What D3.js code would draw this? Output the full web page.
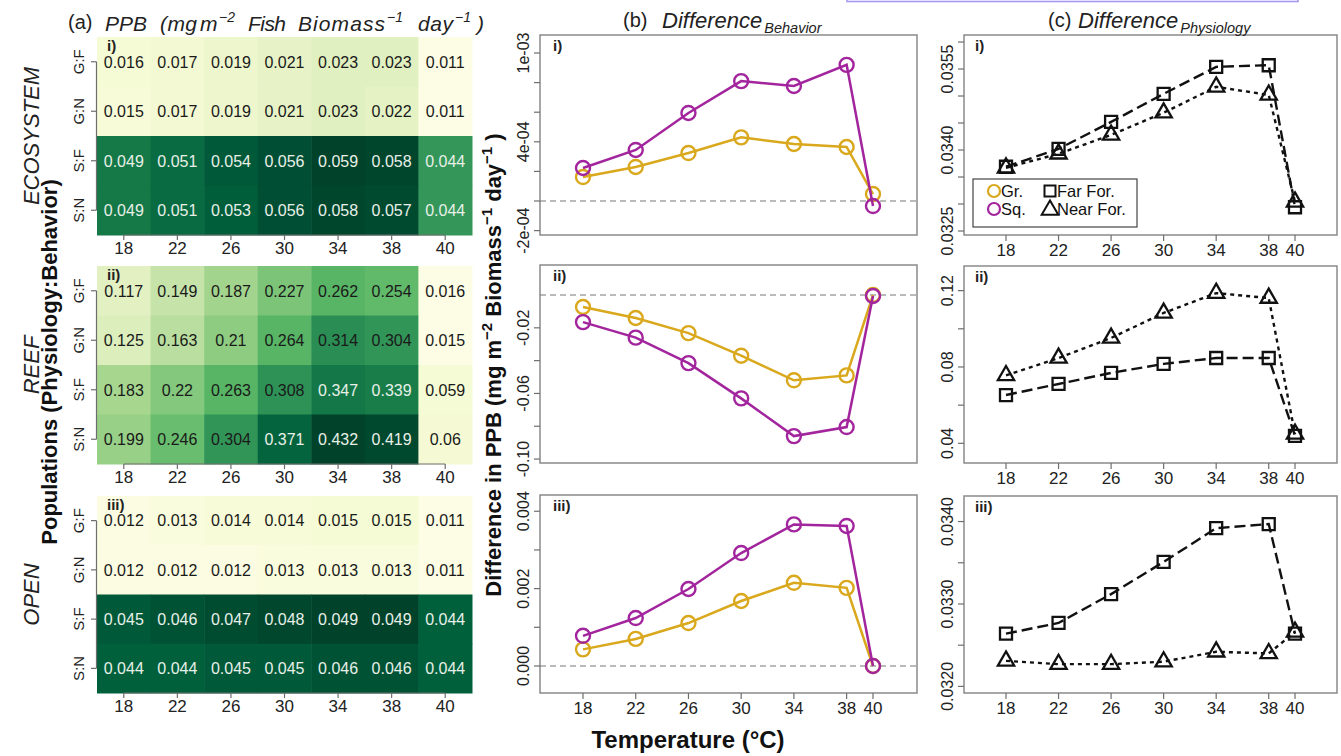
<!DOCTYPE html>
<html><head><meta charset="utf-8">
<script src="https://cdn.jsdelivr.net/npm/d3@7"></script>
<style>
body{margin:0;background:#fff}
svg{display:block}
text{font-family:"Liberation Sans",Arial,Helvetica,sans-serif}
</style>
</head><body>
<svg id="c" width="1341" height="756"></svg>
<script>
// ---------------- DATA ----------------
const temps = [18, 22, 26, 30, 34, 38, 40];
const popRows = ["G:F", "G:N", "S:F", "S:N"];

// (a) PPB heatmaps
const ecoGF = [0.016, 0.017, 0.019, 0.021, 0.023, 0.023, 0.011];
const ecoGN = [0.015, 0.017, 0.019, 0.021, 0.023, 0.022, 0.011];
const ecoSF = [0.049, 0.051, 0.054, 0.056, 0.059, 0.058, 0.044];
const ecoSN = [0.049, 0.051, 0.053, 0.056, 0.058, 0.057, 0.044];
const reefGF = [0.117, 0.149, 0.187, 0.227, 0.262, 0.254, 0.016];
const reefGN = [0.125, 0.163, 0.21, 0.264, 0.314, 0.304, 0.015];
const reefSF = [0.183, 0.22, 0.263, 0.308, 0.347, 0.339, 0.059];
const reefSN = [0.199, 0.246, 0.304, 0.371, 0.432, 0.419, 0.06];
const openGF = [0.012, 0.013, 0.014, 0.014, 0.015, 0.015, 0.011];
const openGN = [0.012, 0.012, 0.012, 0.013, 0.013, 0.013, 0.011];
const openSF = [0.045, 0.046, 0.047, 0.048, 0.049, 0.049, 0.044];
const openSN = [0.044, 0.044, 0.045, 0.045, 0.046, 0.046, 0.044];

// (b) Difference Behavior
const behGr1 = [1.62e-4, 2.30e-4, 3.24e-4, 4.30e-4, 3.85e-4, 3.65e-4, 0.47e-4];
const behSq1 = [2.23e-4, 3.45e-4, 5.95e-4, 8.10e-4, 7.77e-4, 9.20e-4, -0.34e-4];
const behGr2 = [-0.0073, -0.014, -0.0232, -0.037, -0.052, -0.049, 0.0];
const behSq2 = [-0.0165, -0.026, -0.0415, -0.063, -0.086, -0.0805, -0.0006];
const behGr3 = [0.00043, 0.0007, 0.00111, 0.00168, 0.00215, 0.00202, 0.0];
const behSq3 = [0.00078, 0.00124, 0.00199, 0.00292, 0.00366, 0.00362, 0.0];

// (c) Difference Physiology
const phyFar1 = [0.03369, 0.03402, 0.03452, 0.03504, 0.03554, 0.03557, 0.03294];
const phyNear1 = [0.03367, 0.03393, 0.03428, 0.03469, 0.03517, 0.03502, 0.03304];
const phyFar2 = [0.0653, 0.0711, 0.0769, 0.0816, 0.0847, 0.0847, 0.0439];
const phyNear2 = [0.0756, 0.0847, 0.0952, 0.1083, 0.1187, 0.1161, 0.0449];
const phyFar3 = [0.03264, 0.03277, 0.03312, 0.03351, 0.03392, 0.03397, 0.03264];
const phyNear3 = [0.03231, 0.03227, 0.03227, 0.0323, 0.03242, 0.0324, 0.03266];

// tick values and labels
const behTicks1 = [-2e-4, 0, 2e-4, 4e-4, 6e-4, 8e-4, 1e-3];
const behLabels1 = ["-2e-04", "", "", "4e-04", "", "", "1e-03"];
const behTicks2 = [-0.10, -0.08, -0.06, -0.04, -0.02];
const behLabels2 = ["-0.10", "", "-0.06", "", "-0.02"];
const behTicks3 = [0, 0.001, 0.002, 0.003, 0.004];
const behLabels3 = ["0.000", "", "0.002", "", "0.004"];
const phyTicks1 = [0.0325, 0.033, 0.0335, 0.034, 0.0345, 0.035, 0.0355, 0.036];
const phyLabels1 = ["0.0325", "", "", "0.0340", "", "", "0.0355", ""];
const phyTicks2 = [0.04, 0.06, 0.08, 0.10, 0.12];
const phyLabels2 = ["0.04", "", "0.08", "", "0.12"];
const phyTicks3 = [0.032, 0.0325, 0.033, 0.0335, 0.034];
const phyLabels3 = ["0.0320", "", "0.0330", "", "0.0340"];

const legendItems = ["Gr.", "Sq.", "Far For.", "Near For."];

// ---------------- STYLE ----------------
const GOLD = "#d9a81c", PURPLE = "#a2259d", AX = "#6e6e6e";
const svg = d3.select("#c");

// purple selection edge at top
svg.append("rect").attr("x", 847).attr("y", -6).attr("width", 451).attr("height", 7.5)
  .attr("fill", "none").attr("stroke", "#a898f0").attr("stroke-width", 1.6);

function rich(sel, parts, supSize, shift) {
  parts.forEach(p => {
    if (p[1] === "sup") {
      sel.append("tspan").attr("font-size", supSize).attr("dy", -shift).text(p[0]);
    } else if (p[1] === "after") {
      sel.append("tspan").attr("dy", shift).text(p[0]);
    } else {
      sel.append("tspan").text(p[0]);
    }
  });
}

// ---------------- (a) HEATMAPS ----------------
const hx = d3.scaleBand().domain(temps).range([97, 472]);
const colorStops = [0, 0.1, 0.25, 0.4, 0.5, 0.6, 0.7, 0.8, 0.87, 0.95, 1];
const colorVals = ["#fdfde5", "#f6fbd5", "#e1f0c1", "#a8d690", "#80c77a", "#56b464",
                   "#2f9357", "#127646", "#005f3c", "#004b31", "#00432a"];
const tcol = d3.scaleLinear().domain(colorStops).range(colorVals).interpolate(d3.interpolateRgb);

const heatPanels = [
  {rows: [ecoGF, ecoGN, ecoSF, ecoSN], y0: 37, y1: 235, lab: "i)", name: "ECOSYSTEM", thr: 0.6},
  {rows: [reefGF, reefGN, reefSF, reefSN], y0: 266, y1: 464, lab: "ii)", name: "REEF", thr: 0.75},
  {rows: [openGF, openGN, openSF, openSN], y0: 496, y1: 693, lab: "iii)", name: "OPEN", thr: 0.6}
];

heatPanels.forEach(P => {
  const g = svg.append("g");
  const hy = d3.scaleBand().domain(popRows).range([P.y0, P.y1]);
  const all = P.rows.flat();
  const mn = d3.min(all), mx = d3.max(all);
  const cells = [];
  P.rows.forEach((r, i) => r.forEach((v, j) => cells.push({row: popRows[i], t: temps[j], v, s: (v - mn) / (mx - mn)})));
  g.selectAll("rect.c").data(cells).join("rect")
    .attr("x", d => hx(d.t)).attr("y", d => hy(d.row))
    .attr("width", hx.bandwidth() + 0.5).attr("height", hy.bandwidth() + 0.5)
    .attr("fill", d => tcol(d.s));
  g.selectAll("text.v").data(cells).join("text")
    .attr("x", d => hx(d.t) + hx.bandwidth() / 2).attr("y", d => hy(d.row) + hy.bandwidth() / 2)
    .attr("dy", "0.36em").attr("text-anchor", "middle").attr("font-size", 16)
    .attr("fill", d => d.s > P.thr ? "#e8f0e8" : "#1a1a1a")
    .text(d => String(d.v));
  // y axis
  const yc0 = hy(popRows[0]) + hy.bandwidth() / 2, yc1 = hy(popRows[3]) + hy.bandwidth() / 2;
  g.append("line").attr("x1", 96.5).attr("x2", 96.5).attr("y1", yc0).attr("y2", yc1).attr("stroke", AX).attr("stroke-width", 1.2);
  popRows.forEach(r => {
    const y = hy(r) + hy.bandwidth() / 2;
    g.append("line").attr("x1", 91).attr("x2", 96.5).attr("y1", y).attr("y2", y).attr("stroke", AX).attr("stroke-width", 1.2);
    g.append("text").attr("transform", `translate(84,${y}) rotate(-90)`).attr("text-anchor", "middle")
      .attr("font-size", 15).attr("fill", "#222").text(r);
  });
  // x axis
  const xc0 = hx(temps[0]) + hx.bandwidth() / 2, xc1 = hx(temps[6]) + hx.bandwidth() / 2;
  g.append("line").attr("x1", xc0).attr("x2", xc1).attr("y1", P.y1).attr("y2", P.y1).attr("stroke", AX).attr("stroke-width", 1.2);
  temps.forEach(t => {
    const x = hx(t) + hx.bandwidth() / 2;
    g.append("line").attr("x1", x).attr("x2", x).attr("y1", P.y1).attr("y2", P.y1 + 5).attr("stroke", AX).attr("stroke-width", 1.2);
    g.append("text").attr("x", x).attr("y", P.y1 + 19).attr("text-anchor", "middle").attr("font-size", 17).attr("fill", "#222").text(t);
  });
  g.append("text").attr("x", 107).attr("y", P.y0 + 14).attr("font-size", 15).attr("font-weight", "bold").attr("fill", "#222").text(P.lab);
  g.append("text").attr("transform", `translate(39,${(P.y0 + P.y1) / 2}) rotate(-90)`).attr("text-anchor", "middle")
    .attr("font-size", 22).attr("font-style", "italic").attr("fill", "#222").text(P.name);
});

// left axis title
svg.append("text").attr("transform", "translate(57,362) rotate(-90)").attr("text-anchor", "middle")
  .attr("font-size", 22).attr("font-weight", "bold").attr("fill", "#111").text("Populations (Physiology:Behavior)");

// (a) title
{
  svg.append("text").attr("x", 68).attr("y", 29).attr("font-size", 20).attr("fill", "#222").text("(a)");
  // [word, x, width, superscript, supX]
  const words = [["PPB", 105, 42], ["(mg", 160, 37], ["m", 200, 18, "\u22122", 219], ["Fish", 248, 38],
                 ["Biomass", 298, 87, "\u22121", 387], ["day", 418, 35, "\u22121", 455], [")", 477, 6]];
  words.forEach(w => {
    svg.append("text").attr("x", w[1]).attr("y", 31).attr("font-size", 21).attr("font-style", "italic").attr("fill", "#222")
      .attr("textLength", w[2]).attr("lengthAdjust", "spacing").text(w[0]);
    if (w[3]) svg.append("text").attr("x", w[4]).attr("y", 22).attr("font-size", 14).attr("font-style", "italic").attr("fill", "#222").text(w[3]);
  });
}

// ---------------- LINE PANELS ----------------
function linePanel(o) {
  const g = svg.append("g");
  const x = d3.scaleLinear().domain([18, 40]).range(o.xr);
  const y = d3.scaleLinear().domain(o.yd).range([o.y1, o.y0]);
  g.append("rect").attr("x", o.bx0).attr("y", o.y0).attr("width", o.bx1 - o.bx0).attr("height", o.y1 - o.y0)
    .attr("fill", "none").attr("stroke", "#8a8a8a").attr("stroke-width", 1.5);
  o.ticks.forEach((v, i) => {
    g.append("line").attr("x1", o.bx0 - 6).attr("x2", o.bx0).attr("y1", y(v)).attr("y2", y(v)).attr("stroke", AX).attr("stroke-width", 1.2);
    if (o.labels[i]) g.append("text").attr("transform", `translate(${o.bx0 - 11},${y(v)}) rotate(-90)`).attr("text-anchor", "middle")
      .attr("font-size", 16).attr("fill", "#222").text(o.labels[i]);
  });
  if (o.showX) {
    temps.forEach(t => {
      g.append("line").attr("x1", x(t)).attr("x2", x(t)).attr("y1", o.y1).attr("y2", o.y1 + 6).attr("stroke", AX).attr("stroke-width", 1.2);
      g.append("text").attr("x", x(t)).attr("y", o.y1 + 21).attr("text-anchor", "middle").attr("font-size", 17).attr("fill", "#222").text(t);
    });
  }
  if (o.zero) {
    g.append("line").attr("x1", o.bx0).attr("x2", o.bx1).attr("y1", y(0)).attr("y2", y(0))
      .attr("stroke", "#777").attr("stroke-width", 1.2).attr("stroke-dasharray", "6,4");
  }
  g.append("text").attr("x", o.bx0 + o.labDx).attr("y", o.y0 + 16).attr("font-size", 15).attr("font-weight", "bold").attr("fill", "#222").text(o.lab);
  o.series.forEach(s => {
    const pts = s.vals.map((v, i) => [x(temps[i]), y(v)]);
    g.append("path").attr("d", d3.line()(pts)).attr("fill", "none").attr("stroke", s.color)
      .attr("stroke-width", s.lw).attr("stroke-dasharray", s.dash || null);
    pts.forEach(p => {
      if (s.shape === "circle") {
        g.append("circle").attr("cx", p[0]).attr("cy", p[1]).attr("r", 7).attr("fill", "none").attr("stroke", s.color).attr("stroke-width", 2.4);
      } else {
        const sym = s.shape === "square" ? d3.symbol().type(d3.symbolSquare).size(144) : d3.symbol().type(d3.symbolTriangle).size(115);
        g.append("path").attr("d", sym()).attr("transform", `translate(${p[0]},${p[1]})`)
          .attr("fill", "none").attr("stroke", "#111").attr("stroke-width", 2.3);
      }
    });
  });
  return {g, x, y};
}

const bCols = {xr: [583, 873], bx0: 540, bx1: 917, labDx: 13};
const cCols = {xr: [1006, 1295], bx0: 964, bx1: 1337, labDx: 11};
const behS = (gr, sq) => [
  {vals: gr, color: GOLD, lw: 2.5, shape: "circle"},
  {vals: sq, color: PURPLE, lw: 2.5, shape: "circle"}
];
const phyS = (far, near) => [
  {vals: near, color: "#111", lw: 2.4, dash: "4,4", shape: "triangle"},
  {vals: far, color: "#111", lw: 2.4, dash: "11,5", shape: "square"}
];

linePanel({...bCols, y0: 35, y1: 235, yd: [-2.297e-4, 1.1216e-3], ticks: behTicks1, labels: behLabels1, series: behS(behGr1, behSq1), zero: true, showX: false, lab: "i)"});
linePanel({...bCols, y0: 265, y1: 463, yd: [-0.1024, 0.0183], ticks: behTicks2, labels: behLabels2, series: behS(behGr2, behSq2), zero: true, showX: false, lab: "ii)"});
linePanel({...bCols, y0: 495, y1: 693, yd: [-0.000698, 0.00442], ticks: behTicks3, labels: behLabels3, series: behS(behGr3, behSq3), zero: true, showX: true, lab: "iii)"});

linePanel({...cCols, y0: 35, y1: 235, yd: [0.032426, 0.03613], ticks: phyTicks1, labels: phyLabels1, series: phyS(phyFar1, phyNear1), zero: false, showX: true, lab: "i)"});
linePanel({...cCols, y0: 266, y1: 463, yd: [0.0297, 0.1329], ticks: phyTicks2, labels: phyLabels2, series: phyS(phyFar2, phyNear2), zero: false, showX: true, lab: "ii)"});
linePanel({...cCols, y0: 496, y1: 693, yd: [0.03192, 0.03431], ticks: phyTicks3, labels: phyLabels3, series: phyS(phyFar3, phyNear3), zero: false, showX: true, lab: "iii)"});

// legend
{
  const g = svg.append("g");
  g.append("rect").attr("x", 973).attr("y", 179).attr("width", 164).attr("height", 48)
    .attr("fill", "#fff").attr("stroke", "#444").attr("stroke-width", 1.2);
  g.append("circle").attr("cx", 994).attr("cy", 191).attr("r", 6).attr("fill", "none").attr("stroke", GOLD).attr("stroke-width", 2.2);
  g.append("circle").attr("cx", 994).attr("cy", 209).attr("r", 6).attr("fill", "none").attr("stroke", PURPLE).attr("stroke-width", 2.2);
  g.append("path").attr("d", d3.symbol().type(d3.symbolSquare).size(121)()).attr("transform", "translate(1050,191)")
    .attr("fill", "none").attr("stroke", "#111").attr("stroke-width", 2);
  g.append("path").attr("d", d3.symbol().type(d3.symbolTriangle).size(120)()).attr("transform", "translate(1050,210)")
    .attr("fill", "none").attr("stroke", "#111").attr("stroke-width", 2);
  [[1001, 197, legendItems[0]], [1001, 215, legendItems[1]], [1057, 197, legendItems[2]], [1057, 215, legendItems[3]]].forEach(d => {
    g.append("text").attr("x", d[0]).attr("y", d[1]).attr("font-size", 16.5).attr("fill", "#111").text(d[2]);
  });
}

// column titles
{
  svg.append("text").attr("x", 623).attr("y", 27).attr("font-size", 20).attr("fill", "#222").text("(b)");
  const t = svg.append("text").attr("x", 662).attr("y", 28).attr("font-size", 22).attr("font-style", "italic").attr("fill", "#222");
  t.append("tspan").text("Difference");
  t.append("tspan").attr("font-size", 14.5).attr("dx", 2).attr("dy", 5).text("Behavior");
  svg.append("text").attr("x", 1048).attr("y", 27).attr("font-size", 20).attr("fill", "#222").text("(c)");
  const t2 = svg.append("text").attr("x", 1078).attr("y", 28).attr("font-size", 22).attr("font-style", "italic").attr("fill", "#222");
  t2.append("tspan").text("Difference");
  t2.append("tspan").attr("font-size", 14.5).attr("dx", 2).attr("dy", 5).text("Physiology");
}

// middle y label
{
  const t = svg.append("text").attr("transform", "translate(501,365) rotate(-90)").attr("text-anchor", "middle")
    .attr("font-size", 22).attr("font-weight", "bold").attr("fill", "#111");
  rich(t, [["Difference in PPB (mg m", "n"], ["\u22122", "sup"], [" Biomass", "after"], ["\u22121", "sup"], [" day", "after"], ["\u22121", "sup"], [" )", "after"]], 15, 9);
}
// x title
svg.append("text").attr("x", 688).attr("y", 748).attr("text-anchor", "middle").attr("font-size", 24)
  .attr("font-weight", "bold").attr("fill", "#111").text("Temperature (\u00B0C)");
</script>
</body></html>
